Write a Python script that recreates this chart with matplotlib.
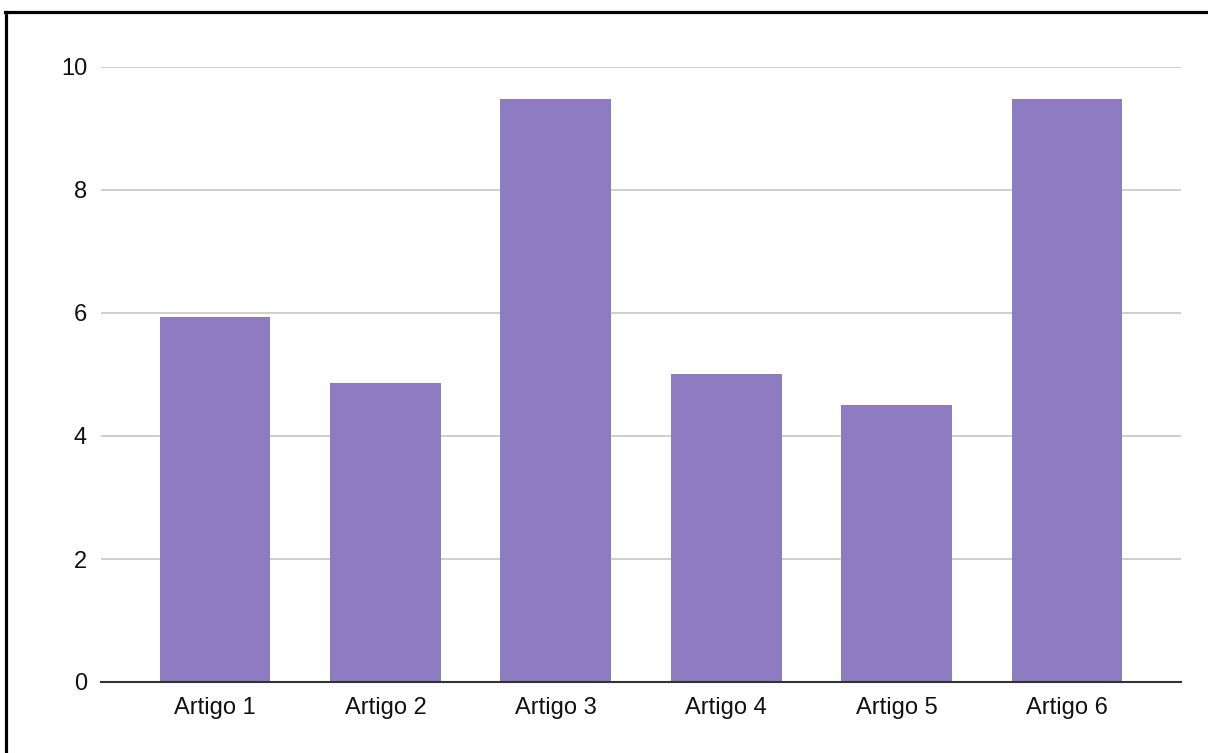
import matplotlib
matplotlib.use("Agg")
import matplotlib.pyplot as plt
from matplotlib.lines import Line2D

categories = ["Artigo 1", "Artigo 2", "Artigo 3", "Artigo 4", "Artigo 5", "Artigo 6"]
values = [5.94, 4.86, 9.48, 5.0, 4.5, 9.48]
yticks = [0, 2, 4, 6, 8, 10]

plt.rcParams['font.family'] = ['Liberation Sans', 'DejaVu Sans']

W, H = 1208, 753
fig = plt.figure(figsize=(W / 100, H / 100), dpi=100)
ax = fig.add_axes([101 / W, 1 - 682 / H, 1080 / W, 615 / H])

x = list(range(len(categories)))
ax.bar(x, values, width=0.65, color="#8e7cc3", zorder=3)
ax.set_xlim(-0.67, len(categories) - 1 + 0.67)
ax.set_ylim(0, 10)
ax.set_yticks(yticks)
ax.set_yticklabels([str(t) for t in yticks])
ax.set_xticks(x)
ax.set_xticklabels(categories)
ax.grid(axis="y", color="#cccccc", linewidth=1.3, zorder=0)
ax.tick_params(axis="both", length=0, labelsize=17, colors="#111111")
ax.tick_params(axis="y", pad=10)
ax.tick_params(axis="x", pad=11)
for s in ["top", "right", "left"]:
    ax.spines[s].set_visible(False)
ax.spines["bottom"].set_color("#333333")
ax.spines["bottom"].set_linewidth(1.5)
ax.spines["bottom"].set_zorder(4)

# figure border (top and left)
fig.add_artist(Line2D([5 / W, 1], [1 - 12 / H, 1 - 12 / H], color="black", linewidth=2.3, transform=fig.transFigure))
fig.add_artist(Line2D([6 / W, 6 / W], [0, 1 - 12 / H], color="black", linewidth=2.3, transform=fig.transFigure))

fig.savefig("out.png", dpi=100)
